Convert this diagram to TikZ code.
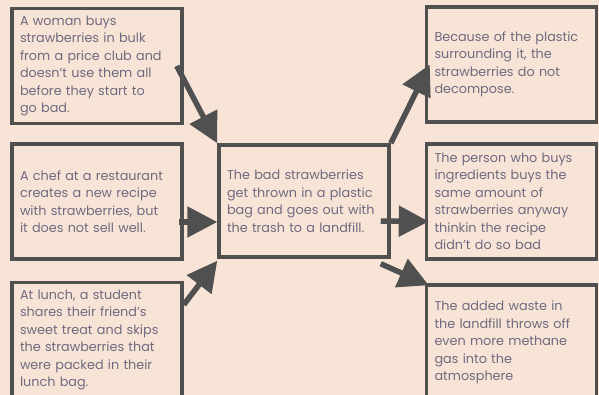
\documentclass[tikz,border=0pt]{standalone}
\usepackage{fontspec}
\setmainfont{Poppins}
\usetikzlibrary{arrows.meta,calc}
\definecolor{bg}{HTML}{F8E4D6}
\definecolor{edge}{HTML}{505050}
\definecolor{txt}{HTML}{6E6A80}
\tikzset{
  card/.style={draw=edge, line width=3.5pt, rectangle, minimum width=170pt, minimum height=115pt,
    text width=154pt, align=left, inner xsep=8pt, inner ysep=0pt, text=txt,
    font=\fontsize{12.8pt}{17.5pt}\selectfont},
  flow/.style={draw=edge, line width=5.5pt, -{Triangle[length=30pt,width=30pt]}}
}
\begin{document}
\begin{tikzpicture}[x=1pt,y=-1pt]
\fill[bg] (0,0) rectangle (599,395);
\clip (0,0) rectangle (599,395);
\node[card] (b1) at (97,66) {A woman buys\\strawberries in bulk\\from a price club and\\doesn't use them all\\before they start to\\go bad.};
\node[card] (b2) at (97,201.5) {A chef at a restaurant\\creates a new recipe\\with strawberries, but\\it does not sell well.};
\node[card] (b3) at (97,340) {At lunch, a student\\shares their friend's\\sweet treat and skips\\the strawberries that\\were packed in their\\lunch bag.};
\node[card, minimum width=168pt, minimum height=112pt] (c) at (304,201) {The bad strawberries\\get thrown in a plastic\\bag and goes out with\\the trash to a landfill.};
\node[card, minimum width=167pt] (r1) at (511.5,64.5) {Because of the plastic\\surrounding it, the\\strawberries do not\\decompose.};
\node[card, minimum width=167pt] (r2) at (511.5,201.5) {The person who buys\\ingredients buys the\\same amount of\\strawberries anyway\\thinkin the recipe\\didn't do so bad};
\node[card, minimum width=167pt] (r3) at (511.5,342.5) {The added waste in\\the landfill throws off\\even more methane\\gas into the\\atmosphere};
\draw[flow] ([shift={(-7,0)}]b1.east) -- (c.north west);
\draw[flow] ([shift={(-5,20.5)}]b2.east) -- ([shift={(0,21)}]c.west);
\draw[flow] ([shift={(0,24)}]b3.north east) -- ([shift={(0,2)}]c.south west);
\draw[flow] (c.north east) -- ([xshift=5]r1.west);
\draw[flow] ([shift={(-10,20)}]c.east) -- ([shift={(4,20)}]r2.west);
\draw[flow] ([shift={(-10,5)}]c.south east) -- ([shift={(4,2)}]r3.north west);
\end{tikzpicture}
\end{document}
